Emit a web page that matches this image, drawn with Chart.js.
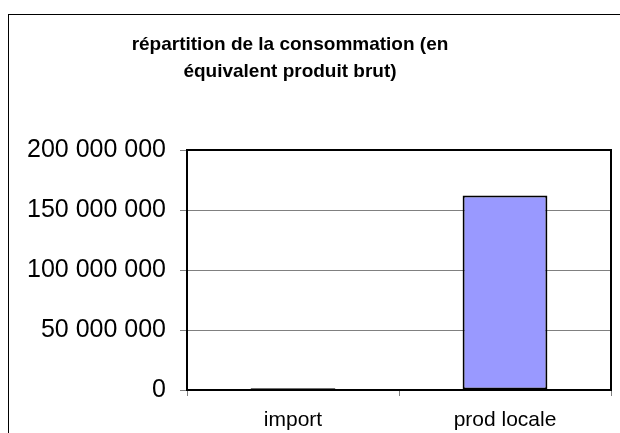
<!DOCTYPE html>
<html>
<head>
<meta charset="utf-8">
<script src="https://cdn.jsdelivr.net/npm/chart.js@4"></script>
<style>
  html, body { margin: 0; padding: 0; background: #fff; }
  canvas { display: block; }
</style>
</head>
<body>
<canvas id="chart" width="620" height="433"></canvas>
<script>
const titleLines = ['répartition de la consommation (en', 'équivalent produit brut)'];
const categories = ['import', 'prod locale'];
const consumption = [1500000, 162000000];
const yTickValues = [0, 50000000, 100000000, 150000000, 200000000];

function formatSpaced(v) {
  return String(Math.round(v)).replace(/\B(?=(\d{3})+(?!\d))/g, ' ');
}

// outer frame, plot frame and the two-line title
const decorPlugin = {
  id: 'decor',
  beforeDraw(chart) {
    const ctx = chart.ctx;
    ctx.save();
    ctx.fillStyle = '#fff';
    ctx.fillRect(0, 0, chart.width, chart.height);
    ctx.strokeStyle = '#000';
    ctx.lineWidth = 1;
    ctx.strokeRect(8.5, 14.5, 800, 600);
    ctx.restore();
  },
  afterDraw(chart) {
    const ctx = chart.ctx;
    const a = chart.chartArea;
    ctx.save();
    ctx.strokeStyle = '#000';
    ctx.lineWidth = 2;
    ctx.strokeRect(a.left, a.top, a.right - a.left, a.bottom - a.top);
    ctx.fillStyle = '#000';
    ctx.font = 'bold 19px "Liberation Sans", Arial, sans-serif';
    ctx.textAlign = 'center';
    ctx.textBaseline = 'alphabetic';
    titleLines.forEach((line, i) => ctx.fillText(line, 290, 50 + i * 27));
    ctx.restore();
  }
};

new Chart(document.getElementById('chart'), {
  type: 'bar',
  data: {
    labels: categories,
    datasets: [{
      label: 'consommation',
      data: consumption,
      backgroundColor: '#9999ff',
      borderColor: '#000',
      borderWidth: 2,
      borderSkipped: false,
      barPercentage: 0.4,
      categoryPercentage: 1
    }]
  },
  options: {
    responsive: false,
    animation: false,
    layout: { padding: { left: 0, top: 150, right: 9, bottom: 0 } },
    plugins: {
      legend: { display: false },
      tooltip: { enabled: false },
      title: { display: false }
    },
    scales: {
      x: {
        afterFit(scale) { scale.height = 43; },
        grid: { offset: true, drawOnChartArea: false, tickLength: 6, color: '#808080' },
        border: { color: '#000', width: 2 },
        ticks: {
          color: '#000',
          padding: 12,
          font: { family: '"Liberation Sans", Arial, sans-serif', size: 21 }
        }
      },
      y: {
        min: 0,
        max: 200000000,
        afterFit(scale) { scale.width = 187; },
        afterBuildTicks(scale) { scale.ticks = yTickValues.map(v => ({ value: v })); },
        grid: { color: '#808080', lineWidth: 1, tickLength: 7 },
        border: { color: '#000', width: 2 },
        ticks: {
          color: '#000',
          padding: 14,
          font: { family: '"Liberation Sans", Arial, sans-serif', size: 25 },
          callback: (v) => formatSpaced(v)
        }
      }
    }
  },
  plugins: [decorPlugin]
});
</script>
</body>
</html>
